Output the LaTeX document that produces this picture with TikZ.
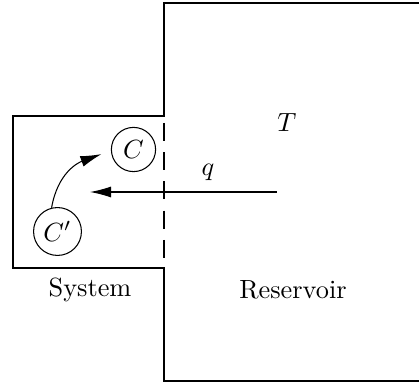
\documentclass[tikz,border=0pt]{standalone}
\usetikzlibrary{arrows.meta}
\begin{document}
\begin{tikzpicture}[x=0.38pt,y=0.38pt,
  state/.style={draw,circle,minimum size=16.8pt,inner sep=0pt},
  arr/.style={-{Latex[length=8pt,width=4.2pt]}},
  wall/.style={line width=1.1pt,dash pattern=on 6.8pt off 4.3pt}]
  \useasboundingbox (0,0) rectangle (419,383);
  \draw (419,380) -- (164,380) -- (164,267) -- (13,267) -- (13,115) -- (164,115) -- (164,2) -- (419,2);
  \draw[wall] (164,260) -- (164,115);
  \node[state] (C) at (133.5,233.5) {$C$};
  \node[state,minimum size=18.2pt] (Cp) at (57.5,151.5) {$C'$};
  \coordinate (qstart) at (277,191);
  \coordinate (qend) at (90,191);
  \draw[arr] (qstart) -- (qend);
  \draw[arr,shorten >=3.8pt] (Cp.104) to[out=80,in=200,looseness=1.1] (C.183);
  \node (q) at (208,211) {$q$};
  \node (T) at (287,260) {$T$};
  \node (sys) at (90,93) {System};
  \node (res) at (293,93) {Reservoir};
\end{tikzpicture}
\end{document}
